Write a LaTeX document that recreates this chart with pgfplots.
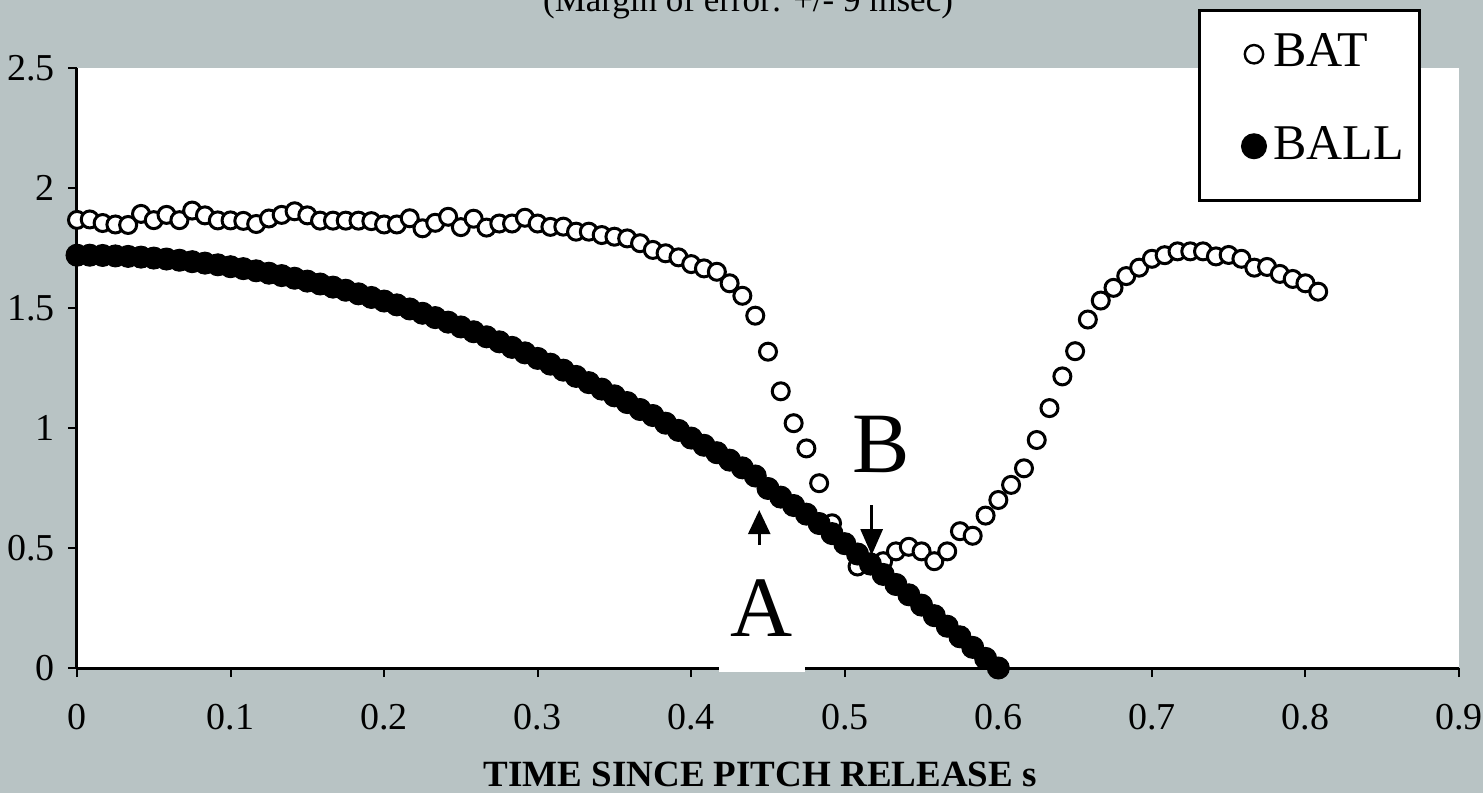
\documentclass[border=0pt]{standalone}
\usepackage{fontspec}
\setmainfont{Liberation Serif}
\usepackage{pgfplots}
\usepackage{pgfplotstable}
\pgfplotsset{compat=1.18}
\usetikzlibrary{arrows.meta}
\definecolor{bg}{RGB}{184,195,196}

\pgfplotstableread{
t y
0.0000 1.867
0.0083 1.869
0.0167 1.854
0.0250 1.848
0.0333 1.846
0.0417 1.892
0.0500 1.866
0.0583 1.888
0.0667 1.866
0.0750 1.906
0.0833 1.886
0.0917 1.865
0.1000 1.865
0.1083 1.863
0.1167 1.850
0.1250 1.873
0.1333 1.888
0.1417 1.903
0.1500 1.886
0.1583 1.864
0.1667 1.864
0.1750 1.864
0.1833 1.864
0.1917 1.862
0.2000 1.848
0.2083 1.848
0.2167 1.874
0.2250 1.832
0.2333 1.855
0.2417 1.880
0.2500 1.837
0.2583 1.872
0.2667 1.835
0.2750 1.852
0.2833 1.852
0.2917 1.876
0.3000 1.852
0.3083 1.838
0.3167 1.839
0.3250 1.818
0.3333 1.818
0.3417 1.804
0.3500 1.797
0.3583 1.790
0.3667 1.770
0.3750 1.742
0.3833 1.728
0.3917 1.711
0.4000 1.683
0.4083 1.665
0.4167 1.651
0.4250 1.603
0.4333 1.551
0.4417 1.468
0.4500 1.318
0.4583 1.153
0.4667 1.020
0.4750 0.915
0.4833 0.770
0.4917 0.603
0.5000 0.520
0.5083 0.423
0.5167 0.440
0.5250 0.445
0.5333 0.486
0.5417 0.505
0.5500 0.486
0.5583 0.445
0.5667 0.486
0.5750 0.570
0.5833 0.551
0.5917 0.635
0.6000 0.700
0.6083 0.763
0.6167 0.832
0.6250 0.950
0.6333 1.083
0.6417 1.215
0.6500 1.320
0.6583 1.452
0.6667 1.531
0.6750 1.584
0.6833 1.633
0.6917 1.668
0.7000 1.705
0.7083 1.720
0.7167 1.736
0.7250 1.736
0.7333 1.736
0.7417 1.715
0.7500 1.721
0.7583 1.705
0.7667 1.668
0.7750 1.671
0.7833 1.642
0.7917 1.621
0.8000 1.603
0.8083 1.568
}\battable

\pgfplotstableread{
t y
0.0000 1.720
0.0083 1.720
0.0167 1.719
0.0250 1.717
0.0333 1.715
0.0417 1.712
0.0500 1.708
0.0583 1.704
0.0667 1.699
0.0750 1.693
0.0833 1.687
0.0917 1.680
0.1000 1.672
0.1083 1.664
0.1167 1.655
0.1250 1.645
0.1333 1.635
0.1417 1.624
0.1500 1.612
0.1583 1.600
0.1667 1.587
0.1750 1.574
0.1833 1.559
0.1917 1.544
0.2000 1.529
0.2083 1.513
0.2167 1.496
0.2250 1.478
0.2333 1.460
0.2417 1.441
0.2500 1.421
0.2583 1.401
0.2667 1.380
0.2750 1.359
0.2833 1.336
0.2917 1.313
0.3000 1.290
0.3083 1.266
0.3167 1.241
0.3250 1.215
0.3333 1.189
0.3417 1.162
0.3500 1.134
0.3583 1.106
0.3667 1.077
0.3750 1.052
0.3833 1.020
0.3917 0.990
0.4000 0.958
0.4083 0.928
0.4167 0.897
0.4250 0.866
0.4333 0.834
0.4417 0.800
0.4500 0.748
0.4583 0.712
0.4667 0.677
0.4750 0.641
0.4833 0.602
0.4917 0.560
0.5000 0.518
0.5083 0.475
0.5167 0.433
0.5250 0.390
0.5333 0.348
0.5417 0.305
0.5500 0.262
0.5583 0.218
0.5667 0.174
0.5750 0.130
0.5833 0.086
0.5917 0.040
0.6000 0.000
}\balltable

\begin{document}
\begin{tikzpicture}
\fill[bg] (-38.5pt,-62.5pt) rectangle (703pt,334pt);
\useasboundingbox (-38.5pt,-62.5pt) rectangle (703pt,334pt);
\fill[white] (0,0) rectangle (691pt,300pt);
\begin{axis}[
  at={(0,0)}, anchor=south west,
  scale only axis, width=691pt, height=300pt,
  xmin=0, xmax=0.9, ymin=0, ymax=2.5,
  xtick={0,0.1,0.2,0.3,0.4,0.5,0.6,0.7,0.8,0.9},
  ytick={0,0.5,1,1.5,2,2.5},
  scaled ticks=false,
  axis x line=bottom, axis y line=left,
  axis line style={line width=1.5pt, -, black},
  tick style={line width=1pt, black},
  major tick length=4.5pt,
  tick align=outside,
  xtick pos=bottom, ytick pos=left,
  /pgf/number format/assume math mode=true,
  ticklabel style={font=\fontsize{19}{22}\selectfont},
  yticklabel style={xshift=-3pt},
  xticklabel style={yshift=-10pt},
  clip=false,
  legend style={at={(0.8113,1.0978)}, anchor=north west, draw=black,
    line width=1.5pt, fill=white, font=\fontsize{25}{29}\selectfont,
    inner xsep=8pt, inner ysep=11.2pt, row sep=28.5pt, column sep=3.15pt,
    nodes={inner sep=0pt}, cells={anchor=base west}},
]
\addplot[only marks, mark=*, mark size=4.25pt,
  mark options={fill=white, draw=black, line width=1.5pt},
  legend image code/.code={\path[draw=none,fill=none] (0pt,0pt) -- (25pt,0pt);
    \draw[line width=1.2pt, fill=white, draw=black] (19.15pt,6pt) circle (4.6pt);}]
  table[x=t, y=y] {\battable};
\addlegendentry{BAT}
\addplot[only marks, mark=*, mark size=5.5pt,
  mark options={fill=black, draw=black, line width=0.5pt},
  legend image code/.code={\path[draw=none,fill=none] (0pt,-9.6pt) -- (25pt,0pt);
    \fill[black] (19.15pt,6.5pt) circle (5.75pt);}]
  table[x=t, y=y] {\balltable};
\addlegendentry{BALL}

\draw[line width=1.3pt, -{Triangle[width=11pt,length=12pt]}]
  (axis cs:0.4443,0.5125) -- (axis cs:0.4443,0.658);
\draw[line width=1.3pt, -{Triangle[width=11pt,length=13pt]}]
  (axis cs:0.5175,0.679) -- (axis cs:0.5175,0.47);
\node[anchor=base, inner sep=0pt] at (axis cs:0.5236,0.8138)
  {\fontsize{43}{43}\selectfont B};
\node[anchor=base, inner sep=0pt] at (axis cs:0.437,2.735)
  {\fontsize{17.5}{20}\selectfont (Margin of error: +/- 9 msec)};
\node[anchor=base, inner sep=0pt] at (axis cs:0.445,-0.495)
  {\fontsize{18.5}{20}\selectfont\bfseries TIME SINCE PITCH RELEASE s};
\coordinate (Apos) at (axis cs:0.4461,0.130);
\end{axis}
\node[anchor=base, fill=white, inner xsep=6pt, inner ysep=1pt, text depth=16.5pt]
  at (Apos) {\fontsize{43}{43}\selectfont A};
\end{tikzpicture}
\end{document}
